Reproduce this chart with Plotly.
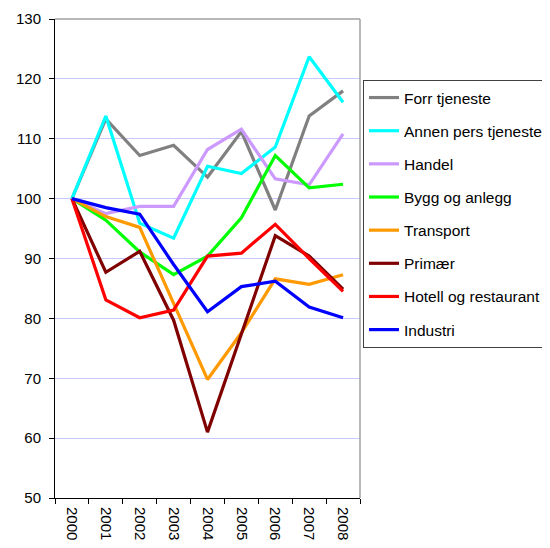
import plotly.graph_objects as go

years = ["2000", "2001", "2002", "2003", "2004", "2005", "2006", "2007", "2008"]

forr_tjeneste = [100, 113.3, 107.2, 108.9, 103.6, 111.2, 98.1, 113.8, 118.0]
annen_pers_tjeneste = [100, 113.8, 95.9, 93.4, 105.4, 104.2, 108.6, 123.7, 116.1]
handel = [100, 97.5, 98.7, 98.7, 108.2, 111.6, 103.3, 102.3, 110.8]
bygg_og_anlegg = [100, 96.4, 91.1, 87.3, 90.4, 96.8, 107.2, 101.8, 102.4]
transport = [100, 97.0, 95.2, 82.5, 69.8, 77.6, 86.6, 85.7, 87.3]
primaer = [100, 87.7, 91.2, 79.7, 61.0, 77.2, 93.8, 90.4, 84.9]
hotell_og_restaurant = [100, 83.1, 80.1, 81.4, 90.4, 90.9, 95.7, 90.0, 84.5]
industri = [100, 98.5, 97.4, 89.0, 81.1, 85.3, 86.2, 81.9, 80.1]

series = [
    ("Forr tjeneste", forr_tjeneste, "#808080"),
    ("Annen pers tjeneste", annen_pers_tjeneste, "#00FFFF"),
    ("Handel", handel, "#CC99FF"),
    ("Bygg og anlegg", bygg_og_anlegg, "#00FF00"),
    ("Transport", transport, "#FF9900"),
    ("Primær", primaer, "#800000"),
    ("Hotell og restaurant", hotell_og_restaurant, "#FF0000"),
    ("Industri", industri, "#0000FF"),
]

fig = go.Figure()
for name, vals, col in series:
    fig.add_trace(go.Scatter(
        x=years, y=vals, name=name, mode="lines",
        line=dict(color=col, width=3.2), legendgroup=name,
    ))

font_family = "Liberation Sans, Arial, sans-serif"

fig.update_layout(
    width=542, height=540,
    margin=dict(l=47, r=190, t=11, b=50, autoexpand=False),
    paper_bgcolor="white", plot_bgcolor="white",
    font=dict(family=font_family, color="black", size=15),
    showlegend=True,
    legend=dict(
        x=1.0098, y=0.8727, xanchor="left", yanchor="top",
        bordercolor="#404040", borderwidth=1,
        font=dict(family=font_family, size=15.5, color="black"),
        tracegroupgap=10,
        itemwidth=30,
    ),
    xaxis=dict(
        type="category", tickson="boundaries",
        range=[-0.5, 8.5], automargin=False,
        ticks="outside", ticklen=5, tickcolor="black",
        showline=True, linecolor="black", linewidth=1,
        showgrid=False, tickangle=90,
        tickfont=dict(size=15), ticklabelstandoff=5,
        mirror=False,
    ),
    yaxis=dict(
        range=[50, 130], dtick=10, automargin=False,
        ticks="outside", ticklen=5, tickcolor="black",
        showline=True, linecolor="black", linewidth=1,
        showgrid=True, gridcolor="#C8C8FF", gridwidth=1,
        tickfont=dict(size=15), zeroline=False, ticklabelstandoff=5,
    ),
    shapes=[
        dict(type="line", xref="paper", yref="paper", x0=0, x1=1, y0=1, y1=1,
             line=dict(color="#A0A0A0", width=1.5)),
        dict(type="line", xref="paper", yref="paper", x0=1, x1=1, y0=0, y1=1,
             line=dict(color="#A0A0A0", width=1.5)),
    ],
)

fig.write_html("out.html")
